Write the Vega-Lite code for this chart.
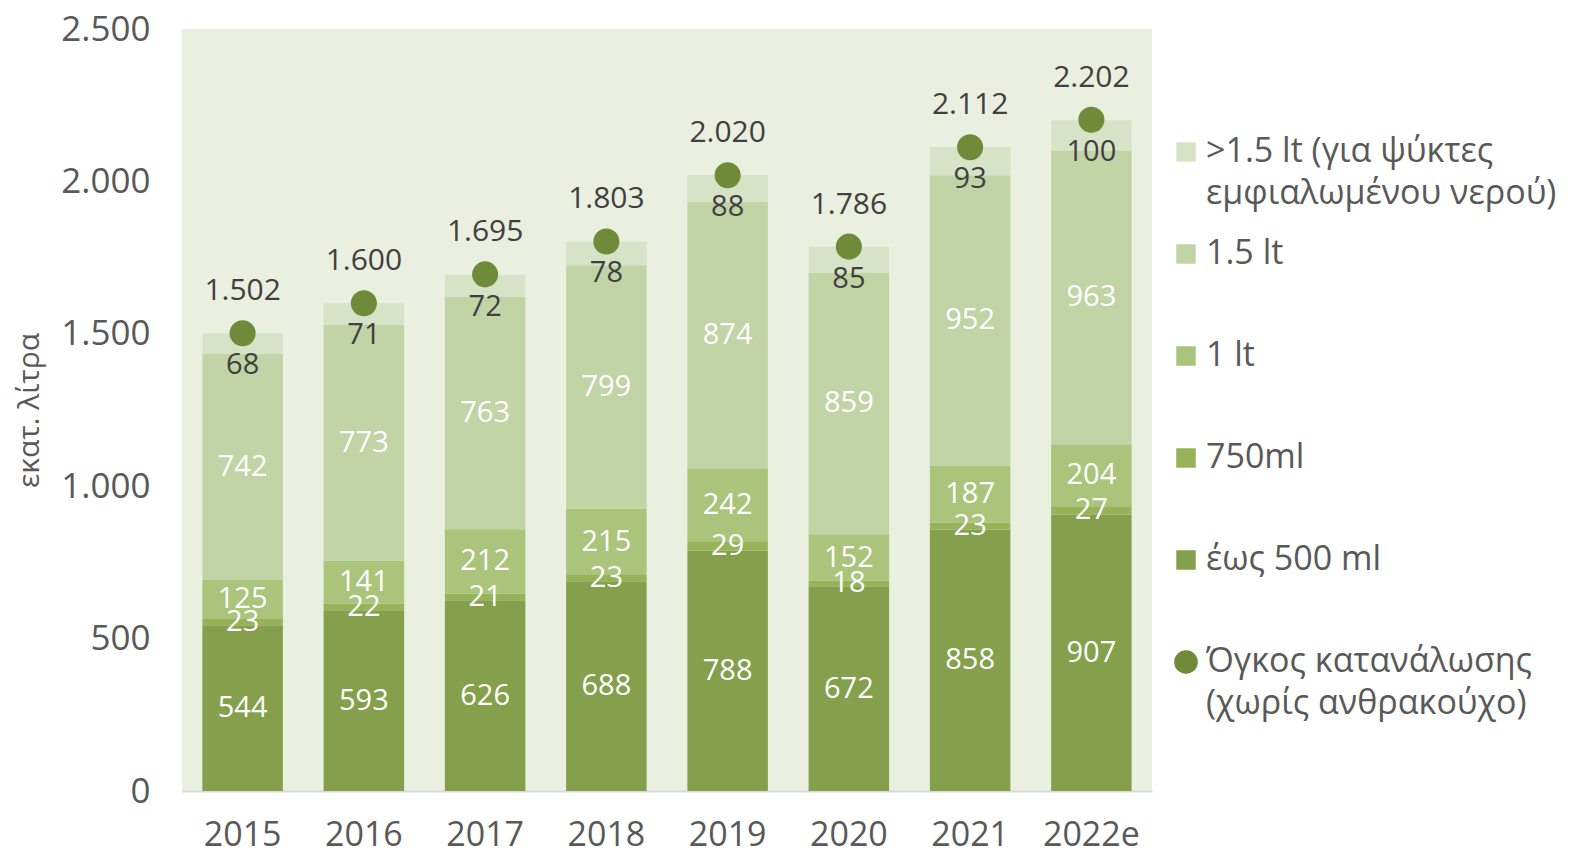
{
  "$schema": "https://vega.github.io/schema/vega-lite/v6.json",
  "width": 970,
  "height": 762,
  "autosize": {"type": "none"},
  "padding": {"left": 182, "top": 29, "right": 426, "bottom": 63},
  "background": "#ffffff",
  "config": {
    "locale": {"number": {"decimal": ",", "thousands": ".", "grouping": [3], "currency": ["", " €"]}},
    "view": {"fill": "#EBEFE0", "stroke": null},
    "font": "Open Sans"
  },
  "datasets": {
    "parts": [
      {"year": "2015", "size": "έως 500 ml", "ord": 1, "value": 544},
      {"year": "2015", "size": "750ml", "ord": 2, "value": 23},
      {"year": "2015", "size": "1 lt", "ord": 3, "value": 125},
      {"year": "2015", "size": "1.5 lt", "ord": 4, "value": 742},
      {"year": "2015", "size": ">1.5 lt (για ψύκτες εμφιαλωμένου νερού)", "ord": 5, "value": 68},
      {"year": "2016", "size": "έως 500 ml", "ord": 1, "value": 593},
      {"year": "2016", "size": "750ml", "ord": 2, "value": 22},
      {"year": "2016", "size": "1 lt", "ord": 3, "value": 141},
      {"year": "2016", "size": "1.5 lt", "ord": 4, "value": 773},
      {"year": "2016", "size": ">1.5 lt (για ψύκτες εμφιαλωμένου νερού)", "ord": 5, "value": 71},
      {"year": "2017", "size": "έως 500 ml", "ord": 1, "value": 626},
      {"year": "2017", "size": "750ml", "ord": 2, "value": 21},
      {"year": "2017", "size": "1 lt", "ord": 3, "value": 212},
      {"year": "2017", "size": "1.5 lt", "ord": 4, "value": 763},
      {"year": "2017", "size": ">1.5 lt (για ψύκτες εμφιαλωμένου νερού)", "ord": 5, "value": 72},
      {"year": "2018", "size": "έως 500 ml", "ord": 1, "value": 688},
      {"year": "2018", "size": "750ml", "ord": 2, "value": 23},
      {"year": "2018", "size": "1 lt", "ord": 3, "value": 215},
      {"year": "2018", "size": "1.5 lt", "ord": 4, "value": 799},
      {"year": "2018", "size": ">1.5 lt (για ψύκτες εμφιαλωμένου νερού)", "ord": 5, "value": 78},
      {"year": "2019", "size": "έως 500 ml", "ord": 1, "value": 788},
      {"year": "2019", "size": "750ml", "ord": 2, "value": 29},
      {"year": "2019", "size": "1 lt", "ord": 3, "value": 242},
      {"year": "2019", "size": "1.5 lt", "ord": 4, "value": 874},
      {"year": "2019", "size": ">1.5 lt (για ψύκτες εμφιαλωμένου νερού)", "ord": 5, "value": 88},
      {"year": "2020", "size": "έως 500 ml", "ord": 1, "value": 672},
      {"year": "2020", "size": "750ml", "ord": 2, "value": 18},
      {"year": "2020", "size": "1 lt", "ord": 3, "value": 152},
      {"year": "2020", "size": "1.5 lt", "ord": 4, "value": 859},
      {"year": "2020", "size": ">1.5 lt (για ψύκτες εμφιαλωμένου νερού)", "ord": 5, "value": 85},
      {"year": "2021", "size": "έως 500 ml", "ord": 1, "value": 858},
      {"year": "2021", "size": "750ml", "ord": 2, "value": 23},
      {"year": "2021", "size": "1 lt", "ord": 3, "value": 187},
      {"year": "2021", "size": "1.5 lt", "ord": 4, "value": 952},
      {"year": "2021", "size": ">1.5 lt (για ψύκτες εμφιαλωμένου νερού)", "ord": 5, "value": 93},
      {"year": "2022e", "size": "έως 500 ml", "ord": 1, "value": 907},
      {"year": "2022e", "size": "750ml", "ord": 2, "value": 27},
      {"year": "2022e", "size": "1 lt", "ord": 3, "value": 204},
      {"year": "2022e", "size": "1.5 lt", "ord": 4, "value": 963},
      {"year": "2022e", "size": ">1.5 lt (για ψύκτες εμφιαλωμένου νερού)", "ord": 5, "value": 100}
    ],
    "totals": [
      {"year": "2015", "series": "Όγκος κατανάλωσης (χωρίς ανθρακούχο)", "total": 1502},
      {"year": "2016", "series": "Όγκος κατανάλωσης (χωρίς ανθρακούχο)", "total": 1600},
      {"year": "2017", "series": "Όγκος κατανάλωσης (χωρίς ανθρακούχο)", "total": 1695},
      {"year": "2018", "series": "Όγκος κατανάλωσης (χωρίς ανθρακούχο)", "total": 1803},
      {"year": "2019", "series": "Όγκος κατανάλωσης (χωρίς ανθρακούχο)", "total": 2020},
      {"year": "2020", "series": "Όγκος κατανάλωσης (χωρίς ανθρακούχο)", "total": 1786},
      {"year": "2021", "series": "Όγκος κατανάλωσης (χωρίς ανθρακούχο)", "total": 2112},
      {"year": "2022e", "series": "Όγκος κατανάλωσης (χωρίς ανθρακούχο)", "total": 2202}
    ]
  },
  "encoding": {
    "x": {
      "field": "year",
      "type": "nominal",
      "sort": null,
      "scale": {"paddingInner": 0.336, "paddingOuter": 0.168},
      "axis": {
        "title": null,
        "labelAngle": 0,
        "labelFontSize": 34,
        "labelColor": "#595959",
        "labelPadding": 27,
        "ticks": false,
        "domainColor": "#D9D9D9",
        "domainWidth": 2
      }
    }
  },
  "layer": [
    {
      "data": {"name": "parts"},
      "transform": [
        {"stack": "value", "groupby": ["year"], "sort": [{"field": "ord", "order": "ascending"}], "as": ["v0", "v1"]},
        {"calculate": "(datum.v0 + datum.v1) / 2", "as": "mid"}
      ],
      "layer": [
        {
          "mark": {"type": "bar"},
          "encoding": {
            "y": {
              "field": "v0",
              "type": "quantitative",
              "scale": {"domain": [0, 2500], "nice": false},
              "axis": {
                "title": "εκατ. λίτρα",
                "titleFontSize": 30,
                "titleFontWeight": "normal",
                "titleColor": "#595959",
                "titlePadding": 16,
                "values": [0, 500, 1000, 1500, 2000, 2500],
                "format": ",.0f",
                "labelFontSize": 35,
                "labelColor": "#595959",
                "labelPadding": 32,
                "grid": false,
                "ticks": false,
                "domain": false
              }
            },
            "y2": {"field": "v1"},
            "color": {
              "field": "size",
              "type": "nominal",
              "scale": {
                "domain": [">1.5 lt (για ψύκτες εμφιαλωμένου νερού)", "1.5 lt", "1 lt", "750ml", "έως 500 ml", "Όγκος κατανάλωσης (χωρίς ανθρακούχο)"],
                "range": ["#D8E2C6", "#C2D3A6", "#AAC47C", "#97B35A", "#84A04C", "#6F8B3A"]
              },
              "legend": {
                "title": null,
                "orient": "none",
                "legendX": 987,
                "legendY": 106,
                "padding": 0,
                "labelFontSize": 34,
                "labelColor": "#595959",
                "labelLimit": 700,
                "labelOffset": 3,
                "labelBaseline": "top",
                "rowPadding": 26,
                "symbolType": "square",
                "symbolSize": 380,
                "symbolStrokeWidth": 0,
                "symbolOpacity": 1,
                "labelExpr": "datum.value == '>1.5 lt (για ψύκτες εμφιαλωμένου νερού)' ? ['>1.5 lt (για ψύκτες', 'εμφιαλωμένου νερού)'] : datum.value == 'Όγκος κατανάλωσης (χωρίς ανθρακούχο)' ? ['Όγκος κατανάλωσης', '(χωρίς ανθρακούχο)'] : [datum.label, ' ']",
                "encode": {
                  "labels": {"update": {"dy": {"value": -17}, "lineHeight": {"value": 42}}},
                  "symbols": {
                    "update": {
                      "shape": {"signal": "datum.value == 'Όγκος κατανάλωσης (χωρίς ανθρακούχο)' ? 'circle' : 'square'"},
                      "size": {"signal": "datum.value == 'Όγκος κατανάλωσης (χωρίς ανθρακούχο)' ? 560 : 380"}
                    }
                  }
                }
              }
            }
          }
        },
        {
          "transform": [{"filter": "datum.ord < 5"}],
          "mark": {"type": "text", "color": "#ffffff", "fontSize": 29, "baseline": "middle"},
          "encoding": {
            "y": {"field": "mid", "type": "quantitative"},
            "text": {"field": "value", "type": "quantitative", "format": ",.0f"}
          }
        },
        {
          "transform": [{"filter": "datum.ord == 5"}],
          "mark": {"type": "text", "color": "#404040", "fontSize": 29, "baseline": "middle", "dy": 32},
          "encoding": {
            "y": {"field": "v1", "type": "quantitative"},
            "text": {"field": "value", "type": "quantitative", "format": ",.0f"}
          }
        }
      ]
    },
    {
      "data": {"name": "totals"},
      "layer": [
        {
          "mark": {"type": "circle", "size": 680, "opacity": 1},
          "encoding": {
            "y": {"field": "total", "type": "quantitative"},
            "color": {"field": "series", "type": "nominal"}
          }
        },
        {
          "mark": {"type": "text", "color": "#404040", "fontSize": 30, "baseline": "middle", "dy": -42},
          "encoding": {
            "y": {"field": "total", "type": "quantitative"},
            "text": {"field": "total", "type": "quantitative", "format": ",.0f"}
          }
        }
      ]
    }
  ]
}
